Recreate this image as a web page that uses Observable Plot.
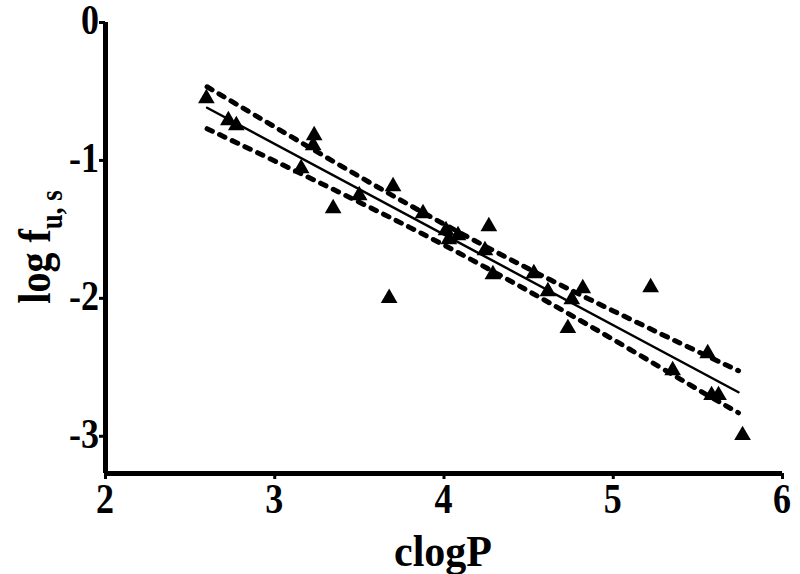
<!DOCTYPE html>
<html><head><meta charset="utf-8">
<script src="https://cdn.jsdelivr.net/npm/d3@7"></script>
<script src="https://cdn.jsdelivr.net/npm/@observablehq/plot@0.6"></script>
<style>
body{margin:0;background:#fff}
#chart svg{font-family:"Liberation Serif","Times New Roman",serif;}
</style>
</head><body><div id="chart"></div>
<script>
// Data
const clogP = [2.596, 2.726, 2.773, 3.233, 3.227, 3.156, 3.345, 3.499, 3.699, 3.676, 3.876, 4.012, 4.029, 4.083, 4.265, 4.242, 4.289, 4.531, 4.614, 4.820, 4.755, 4.732, 5.221, 5.558, 5.351, 5.581, 5.622, 5.764];
const logFus = [-0.551, -0.710, -0.746, -0.819, -0.891, -1.058, -1.348, -1.254, -1.188, -1.999, -1.384, -1.507, -1.572, -1.543, -1.478, -1.652, -1.826, -1.819, -1.949, -1.928, -2.007, -2.217, -1.920, -2.399, -2.522, -2.703, -2.703, -2.993];

// Regression line and 95% confidence band
const fitX = [2.6, 5.74];
const fitY = [-0.618, -2.681];
const bandX = [2.6, 3.0, 3.5, 4.0, 4.5, 5.0, 5.5, 5.74];
const bandUpper = [-0.466, -0.757, -1.117, -1.462, -1.786, -2.091, -2.386, -2.525];
const bandLower = [-0.770, -1.004, -1.303, -1.614, -1.948, -2.299, -2.661, -2.830];

const xTicks = [2, 3, 4, 5, 6];
const yTicks = [0, -1, -2, -3];
const xTickLabels = ["2", "3", "4", "5", "6"];
const yTickLabels = ["0", "-1", "-2", "-3"];
const xDomain = [2, 6];
const yDomain = [-3.27, 0];

const points = clogP.map((x, i) => ({x, y: logFus[i]}));
const fit = fitX.map((x, i) => ({x, y: fitY[i]}));
const upper = bandX.map((x, i) => ({x, y: bandUpper[i]}));
const lower = bandX.map((x, i) => ({x, y: bandLower[i]}));

const plot = Plot.plot({
  width: 800,
  height: 574,
  marginLeft: 105,
  marginRight: 18,
  marginTop: 22,
  marginBottom: 101,
  x: {domain: xDomain},
  y: {domain: yDomain},
  style: {fontSize: "36px", fontWeight: "bold", fontFamily: "'Liberation Serif','Times New Roman',serif", color: "#000", background: "#fff", overflow: "visible"},
  marks: [
    Plot.line(upper, {x: "x", y: "y", stroke: "#000", strokeWidth: 5, strokeDasharray: "6,8", strokeLinecap: "round", curve: "natural"}),
    Plot.line(lower, {x: "x", y: "y", stroke: "#000", strokeWidth: 5, strokeDasharray: "6,8", strokeLinecap: "round", curve: "natural"}),
    Plot.line(fit, {x: "x", y: "y", stroke: "#000", strokeWidth: 2.5}),
    Plot.dot(points, {x: "x", y: "y", symbol: "triangle", r: 6.2, fill: "#000", stroke: "none"}),
    Plot.axisX(xTicks, {tickSize: 6, strokeWidth: 3, tickFormat: () => "", label: null}),
    Plot.axisY(yTicks, {tickSize: 6, strokeWidth: 3, tickFormat: () => "", label: null}),
    Plot.ruleX([xDomain[0]], {y1: yDomain[0], y2: yDomain[1], stroke: "#000", strokeWidth: 5}),
    Plot.ruleY([yDomain[0]], {x1: xDomain[0], x2: xDomain[1], stroke: "#000", strokeWidth: 5})
  ]
});

const sx = plot.scale("x"), sy = plot.scale("y");
const svg = d3.select(plot);
const labelFont = "'Liberation Serif','Times New Roman',serif";
const yBase = sy.apply(yDomain[0]);
const xBase = sx.apply(xDomain[0]);

// x tick labels (tall serif digits)
svg.append("g").selectAll("text").data(xTicks).join("text")
  .attr("transform", d => `translate(${sx.apply(d)},${yBase + 40}) scale(1,1.2)`)
  .attr("text-anchor", "middle")
  .attr("font-family", labelFont).attr("font-size", 36).attr("font-weight", "bold")
  .text((d, i) => xTickLabels[i]);

// y tick labels
svg.append("g").selectAll("text").data(yTicks).join("text")
  .attr("transform", d => `translate(${xBase - 6},${sy.apply(d) + 12}) scale(1,1.2)`)
  .attr("text-anchor", "end")
  .attr("font-family", labelFont).attr("font-size", 36).attr("font-weight", "bold")
  .text((d, i) => yTickLabels[i]);

// x-axis title
svg.append("text")
  .attr("transform", "translate(443,566) scale(1,1.05)")
  .attr("text-anchor", "middle")
  .attr("font-family", labelFont).attr("font-size", 42).attr("font-weight", "bold")
  .text("clogP");

// y-axis title with subscript
const yl = svg.append("text")
  .attr("transform", "translate(50,247) rotate(-90) scale(1,1.15)")
  .attr("text-anchor", "middle")
  .attr("font-family", labelFont).attr("font-size", 40).attr("font-weight", "bold");
yl.append("tspan").text("log f");
yl.append("tspan").attr("dy", 10).attr("font-size", 27).text("u, s");

document.getElementById("chart").appendChild(plot);
</script>
</body></html>
